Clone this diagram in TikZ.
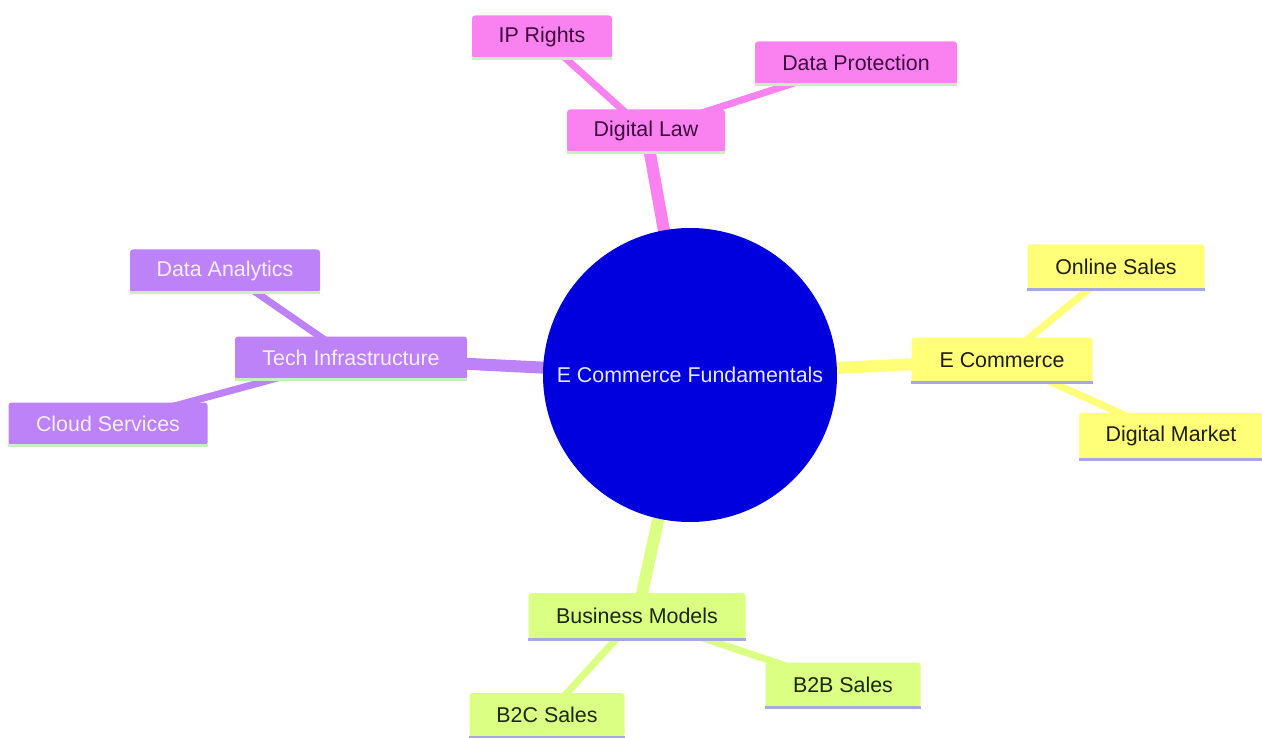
\documentclass[tikz,border=0pt]{standalone}
\usepackage{fontspec}
\setmainfont{Liberation Sans}
\usetikzlibrary{backgrounds}
\pgfdeclarelayer{bottom}
\pgfsetlayers{bottom,background,main}
\definecolor{cblue}{RGB}{0,0,222}
\definecolor{pinkf}{RGB}{250,130,240}
\definecolor{pinkt}{RGB}{60,10,60}
\definecolor{purpf}{RGB}{190,130,248}
\definecolor{purpt}{RGB}{245,238,252}
\definecolor{yelf}{RGB}{255,255,120}
\definecolor{yelt}{RGB}{30,30,20}
\definecolor{grnf}{RGB}{218,255,130}
\definecolor{grnt}{RGB}{25,40,15}
\definecolor{ulgreen}{RGB}{200,240,190}
\definecolor{ullav}{RGB}{168,168,225}
\begin{document}
\begin{tikzpicture}[x=1pt,y=-1pt,
  font=\fontsize{21.4}{25}\selectfont,
  box/.style={rectangle, rounded corners=3pt, inner sep=0pt, minimum height=43pt},
  pinkbox/.style={box, fill=pinkf, text=pinkt},
  purpbox/.style={box, fill=purpf, text=purpt},
  yelbox/.style={box, fill=yelf, text=yelt},
  grnbox/.style={box, fill=grnf, text=grnt},
  ulg/.style={draw=ulgreen, line width=3pt},
  ull/.style={draw=ullav, line width=3pt},
  mainedge/.style={line width=12pt},
  subedge/.style={line width=7pt}
]
\begin{pgfonlayer}{bottom}
\fill[white] (0,0) rectangle (1262,738);
\end{pgfonlayer}
\useasboundingbox (0,0) rectangle (1262,738);

\node[circle, fill=cblue, minimum size=294pt, inner sep=0pt, text={rgb,255:red,232;green,232;blue,255}] (root) at (690,375) {E Commerce Fundamentals};

\node[pinkbox, minimum width=158pt] (law) at (646,131) {Digital Law};
\node[pinkbox, minimum width=140pt] (ip) at (542,37) {IP Rights};
\node[pinkbox, minimum width=202pt] (dp) at (856,63) {Data Protection};

\node[purpbox, minimum width=232pt] (tech) at (351,358) {Tech Infrastructure};
\node[purpbox, minimum width=190pt] (da) at (225,271) {Data Analytics};
\node[purpbox, minimum width=199pt] (cloud) at (108,424) {Cloud Services};

\node[yelbox, minimum width=181pt, minimum height=45pt] (ec) at (1002,360) {E Commerce};
\node[yelbox, minimum width=177pt, minimum height=45pt] (os) at (1116,267) {Online Sales};
\node[yelbox, minimum width=184pt, minimum height=46pt] (dm) at (1171,436) {Digital Market};

\node[grnbox, minimum width=217pt, minimum height=46pt] (bm) at (637,616) {Business Models};
\node[grnbox, minimum width=155pt, minimum height=44pt] (b2c) at (547,715) {B2C Sales};
\node[grnbox, minimum width=155pt, minimum height=45pt] (b2b) at (843,685) {B2B Sales};

\foreach \n in {law,ip,dp,tech,da,cloud}
  \draw[ulg] (\n.south west) -- (\n.south east);
\foreach \n in {ec,os,dm,bm,b2c,b2b}
  \draw[ull] (\n.south west) -- (\n.south east);

\begin{pgfonlayer}{background}
\draw[mainedge, pinkf] (root.center) -- (law.center);
\draw[subedge, pinkf] (law.center) -- (ip.center);
\draw[subedge, pinkf] (law.center) -- (dp.center);
\draw[mainedge, purpf] (root.center) -- (tech.center);
\draw[subedge, purpf] (tech.center) -- (da.center);
\draw[subedge, purpf] (tech.center) -- (cloud.center);
\draw[mainedge, yelf] (root.center) -- (ec.center);
\draw[subedge, yelf] (ec.center) -- (os.center);
\draw[subedge, yelf] (ec.center) -- (dm.center);
\draw[mainedge, grnf] (root.center) -- (bm.center);
\draw[subedge, grnf] (bm.center) -- (b2c.center);
\draw[subedge, grnf] (bm.center) -- (b2b.center);
\end{pgfonlayer}
\end{tikzpicture}
\end{document}
